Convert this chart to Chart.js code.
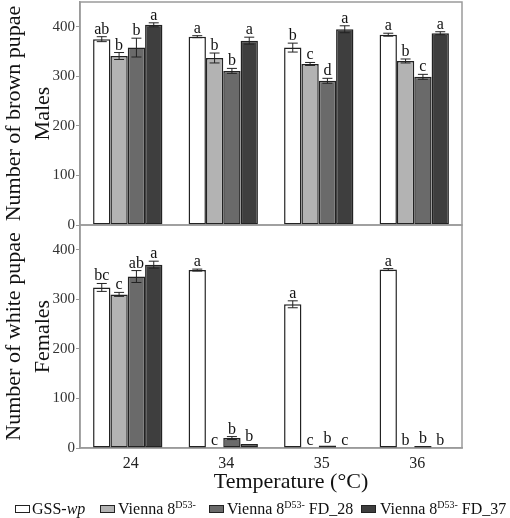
<!DOCTYPE html>
<html><head><meta charset="utf-8">
<script src="https://cdn.jsdelivr.net/npm/chart.js@4/dist/chart.umd.min.js"></script>
<style>
html,body{margin:0;padding:0;background:#fff;}
#wrap{position:relative;width:510px;height:518px;overflow:hidden;font-family:"Liberation Serif","Times New Roman",serif;}
#c1{position:absolute;left:0;top:0;}
#c2{position:absolute;left:0;top:224px;}
.lg{position:absolute;top:500px;font-size:16px;color:#111;white-space:nowrap;line-height:18px;}
.lg sup{font-size:10px;vertical-align:6px;line-height:0;}
.bx{position:absolute;top:505px;width:15px;height:8px;border:1px solid #222;box-sizing:border-box;}
</style></head>
<body><div id="wrap">
<canvas id="c1" width="510" height="236"></canvas>
<canvas id="c2" width="510" height="270"></canvas>
<div class="bx" style="left:15px;background:#ffffff"></div>
<div class="lg" style="left:32px">GSS-<i>wp</i></div>
<div class="bx" style="left:100px;background:#b3b3b3"></div>
<div class="lg" style="left:118px">Vienna 8<sup>D53-</sup></div>
<div class="bx" style="left:209px;background:#6a6a6a"></div>
<div class="lg" style="left:227px">Vienna 8<sup>D53-</sup> FD_28</div>
<div class="bx" style="left:361px;background:#3e3e3e"></div>
<div class="lg" style="left:380px">Vienna 8<sup>D53-</sup> FD_37</div>
</div>
<script>
// ---- data ----
const categories = ['24', '34', '35', '36'];
const strainNames = ['GSS-wp', 'Vienna 8D53-', 'Vienna 8D53- FD_28', 'Vienna 8D53- FD_37'];
const yTicks = [0, 100, 200, 300, 400];
const xTitle = 'Temperature (°C)';

// Males (brown pupae)
const maleGSS   = [375, 380, 358, 384];
const maleV8    = [341, 337, 325, 331];
const maleFD28  = [358, 311, 291, 299];
const maleFD37  = [404, 372, 395, 387];
const maleErrGSS  = [5, 2, 9, 3];
const maleErrV8   = [7, 10, 3, 4];
const maleErrFD28 = [19, 5, 5, 5];
const maleErrFD37 = [4, 7, 7, 3];
const maleLetGSS  = ['ab', 'a', 'b', 'a'];
const maleLetV8   = ['b', 'b', 'c', 'b'];
const maleLetFD28 = ['b', 'b', 'd', 'c'];
const maleLetFD37 = ['a', 'a', 'a', 'a'];

// Females (white pupae)
const femGSS   = [324, 359, 290, 360];
const femV8    = [310, 0, 0, 0];
const femFD28  = [346, 20, 5, 4];
const femFD37  = [370, 8, 1, 0];
const femErrGSS  = [8, 2, 7, 2];
const femErrV8   = [4, 0, 0, 0];
const femErrFD28 = [12, 3, 0, 0];
const femErrFD37 = [7, 0, 0, 0];
const femLetGSS  = ['bc', 'a', 'a', 'a'];
const femLetV8   = ['c', 'c', 'c', 'b'];
const femLetFD28 = ['ab', 'b', 'b', 'b'];
const femLetFD37 = ['a', 'b', 'c', 'b'];

const fills = ['#ffffff', '#b3b3b3', '#6a6a6a', '#3e3e3e'];
const SERIF = '"Liberation Serif","Times New Roman",serif';

function makeSets(vals, errs, lets) {
  return vals.map((v, i) => ({
    label: strainNames[i], data: v, err: errs[i], letters: lets[i],
    backgroundColor: fills[i], borderColor: '#222', borderWidth: 1.5, borderSkipped: false
  }));
}

const frame = {
  id: 'frame',
  beforeDatasetsDraw(chart) {
    const a = chart.chartArea, ctx = chart.ctx;
    ctx.save();
    ctx.strokeStyle = '#9a9a9a'; ctx.lineWidth = 1.5;
    ctx.strokeRect(a.left, a.top, a.right - a.left, a.bottom - a.top);
    ctx.restore();
  }
};

const annotate = {
  id: 'annotate',
  afterDatasetsDraw(chart) {
    const ctx = chart.ctx, ys = chart.scales.y;
    ctx.save();
    chart.data.datasets.forEach((ds, i) => {
      const meta = chart.getDatasetMeta(i);
      meta.data.forEach((bar, j) => {
        const v = ds.data[j], e = ds.err[j], x = bar.x;
        let topPx = ys.getPixelForValue(v + e);
        if (e > 0) {
          const y1 = ys.getPixelForValue(v - e);
          ctx.strokeStyle = '#222'; ctx.lineWidth = 1;
          ctx.beginPath();
          ctx.moveTo(x, topPx); ctx.lineTo(x, y1);
          ctx.moveTo(x - 5, topPx); ctx.lineTo(x + 5, topPx);
          ctx.moveTo(x - 5, y1); ctx.lineTo(x + 5, y1);
          ctx.stroke();
        }
        ctx.fillStyle = '#111';
        ctx.font = '16px ' + SERIF;
        ctx.textAlign = 'center'; ctx.textBaseline = 'alphabetic';
        ctx.fillText(ds.letters[j], x, topPx - 3);
      });
    });
    ctx.restore();
  }
};

const xTitlePlugin = {
  id: 'xTitlePlugin',
  afterDraw(chart) {
    const ctx = chart.ctx, a = chart.chartArea;
    ctx.save();
    ctx.fillStyle = '#111';
    ctx.font = '22px ' + SERIF;
    ctx.textAlign = 'center'; ctx.textBaseline = 'middle';
    ctx.fillText(xTitle, (a.left + a.right) / 2 + 20, chart.height - 12);
    ctx.restore();
  }
};

function yScale(titleLines) {
  return {
    min: 0, max: 450,
    afterFit(s) { s.width = 80; s.paddingTop = 0; s.paddingBottom = 0; },
    afterBuildTicks(s) { s.ticks = yTicks.map(v => ({ value: v })); },
    border: { display: true, color: '#9a9a9a', width: 1.5 },
    grid: { drawOnChartArea: false, drawTicks: true, tickLength: 4, color: '#9a9a9a', lineWidth: 1 },
    ticks: { font: { family: SERIF, size: 15 }, color: '#333', padding: 1 },
    title: { display: true, text: titleLines, color: '#111', padding: 0,
             font: { family: SERIF, size: 22, lineHeight: 1.3 } }
  };
}

const common = () => ({
  responsive: false, animation: false, devicePixelRatio: 1,
  plugins: { legend: { display: false }, tooltip: { enabled: false } },
  datasets: { bar: { categoryPercentage: 0.726, barPercentage: 1.0 } }
});

const opts1 = common();
opts1.layout = { padding: { top: 2, right: 48, bottom: 11, left: 0 } };
opts1.scales = {
  x: { display: false, grid: { display: false } },
  y: yScale(['Number of brown pupae', 'Males'])
};
new Chart(document.getElementById('c1'), {
  type: 'bar',
  data: { labels: categories, datasets: makeSets(
    [maleGSS, maleV8, maleFD28, maleFD37],
    [maleErrGSS, maleErrV8, maleErrFD28, maleErrFD37],
    [maleLetGSS, maleLetV8, maleLetFD28, maleLetFD37]) },
  options: opts1, plugins: [frame, annotate]
});

const opts2 = common();
opts2.layout = { padding: { top: 1, right: 48, bottom: 0, left: 0 } };
opts2.scales = {
  x: {
    afterFit(s) { s.height = 46; },
    border: { display: true, color: '#9a9a9a', width: 1.5 },
    grid: { display: false, drawTicks: false },
    ticks: { font: { family: SERIF, size: 16 }, color: '#222', padding: 6, labelOffset: 3 },
    title: { display: false }
  },
  y: yScale(['Number of white pupae', 'Females'])
};
new Chart(document.getElementById('c2'), {
  type: 'bar',
  data: { labels: categories, datasets: makeSets(
    [femGSS, femV8, femFD28, femFD37],
    [femErrGSS, femErrV8, femErrFD28, femErrFD37],
    [femLetGSS, femLetV8, femLetFD28, femLetFD37]) },
  options: opts2, plugins: [frame, annotate, xTitlePlugin]
});
</script>
</body></html>
